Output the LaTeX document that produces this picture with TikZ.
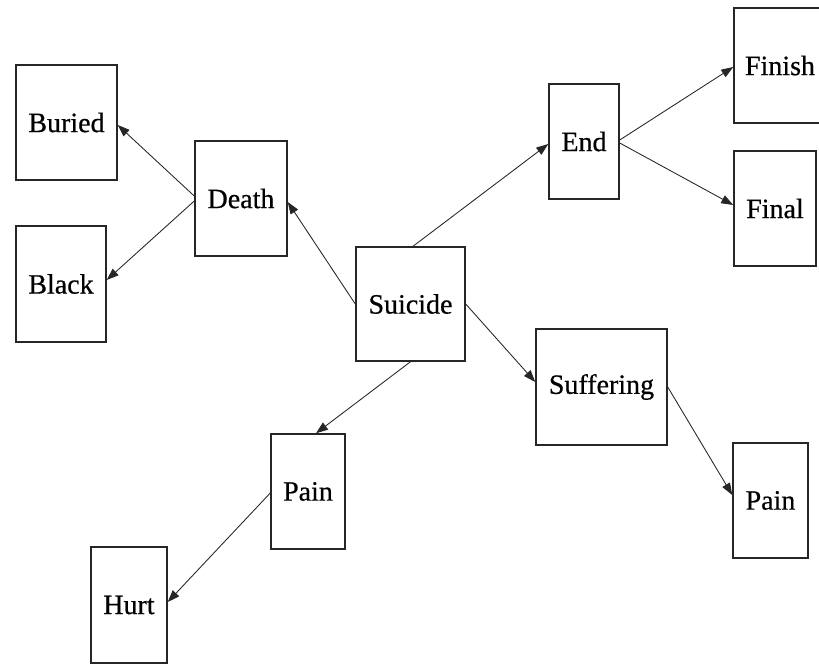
\documentclass[tikz,border=0pt]{standalone}
\usepackage{fontspec}
\setmainfont{Liberation Serif}
\newfontfamily\boxfont[FakeBold=0.6]{Liberation Serif}
\usetikzlibrary{arrows.meta,calc}
\begin{document}
\begin{tikzpicture}[x=0.75pt,y=-0.75pt,
  wbox/.style={draw=black!85,line width=1.1pt,rectangle,inner sep=0pt,
    font=\boxfont\fontsize{21}{24}\selectfont,text=black},
  conn/.style={draw=black!85,line width=0.65pt,-{Triangle[length=9pt,width=6.5pt]}}]
\useasboundingbox (0,0) rectangle (819,664);
\node[wbox,minimum width=101*0.75pt,minimum height=115*0.75pt] (buried) at (66.5,122.5) {Buried};
\node[wbox,minimum width=90*0.75pt,minimum height=116*0.75pt] (black) at (61,284) {Black};
\node[wbox,minimum width=92*0.75pt,minimum height=115*0.75pt] (death) at (241,198.5) {Death};
\node[wbox,minimum width=109*0.75pt,minimum height=114*0.75pt] (suicide) at (410.5,304) {Suicide};
\node[wbox,minimum width=70*0.75pt,minimum height=115*0.75pt] (endn) at (584,141.5) {End};
\node[wbox,minimum width=92*0.75pt,minimum height=115*0.75pt] (finish) at (780,65.5) {Finish};
\node[wbox,minimum width=82*0.75pt,minimum height=115*0.75pt] (final) at (775,208.5) {Final};
\node[wbox,minimum width=131*0.75pt,minimum height=116*0.75pt] (suffering) at (601.5,387) {Suffering};
\node[wbox,minimum width=75*0.75pt,minimum height=115*0.75pt] (painr) at (770.5,500.5) {Pain};
\node[wbox,minimum width=74*0.75pt,minimum height=115*0.75pt] (painl) at (308,491.5) {Pain};
\node[wbox,minimum width=76*0.75pt,minimum height=116*0.75pt] (hurt) at (129,605) {Hurt};
\draw[conn] ($(death.west)+(0,-2.5)$) -- ($(buried.east)+(0,2.5)$);
\draw[conn] ($(death.west)+(0,2.5)$) -- ($(black.east)+(0,-4)$);
\draw[conn] (suicide.west) -- ($(death.east)+(0,3.5)$);
\draw[conn] ($(suicide.north)+(2.5,0)$) -- ($(endn.west)+(0,2.5)$);
\draw[conn] ($(endn.east)+(0,-1.5)$) -- ($(finish.west)+(0,1.5)$);
\draw[conn] ($(endn.east)+(0,1.5)$) -- ($(final.west)+(0,-3.5)$);
\draw[conn] (suicide.east) -- ($(suffering.west)+(0,-5)$);
\draw[conn] (suffering.east) -- ($(painr.west)+(0,-5.5)$);
\draw[conn] (suicide.south) -- ($(painl.north)+(8,0)$);
\draw[conn] ($(painl.west)+(0,1.5)$) -- ($(hurt.east)+(0,-3)$);
\end{tikzpicture}
\end{document}
